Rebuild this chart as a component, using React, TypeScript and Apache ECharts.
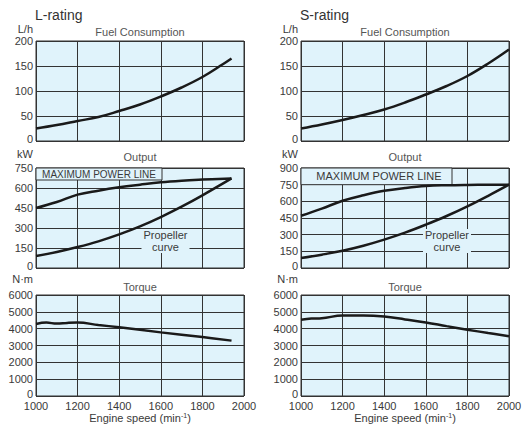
import React, { useEffect, useRef } from "react";
import * as echarts from "echarts";

// ---------- data ----------
const speedTicks = [1000, 1200, 1400, 1600, 1800, 2000];

// L-rating
const lFuelSpeed = [1000, 1100, 1200, 1300, 1400, 1500, 1600, 1700, 1800, 1900, 1940];
const lFuel = [25, 32, 40, 48, 60, 73, 89, 107, 128, 154, 165];
const lPowerSpeed = [1000, 1100, 1200, 1300, 1400, 1500, 1600, 1700, 1800, 1940];
const lMaxPower = [450, 495, 550, 580, 605, 625, 643, 655, 663, 672];
const lPropeller = [90, 120, 157, 200, 252, 312, 382, 460, 545, 672];
const lTorqueSpeed = [1000, 1050, 1100, 1150, 1200, 1300, 1400, 1600, 1800, 1940];
const lTorque = [4280, 4360, 4300, 4340, 4360, 4220, 4080, 3780, 3500, 3290];

// S-rating
const sFuelSpeed = [1000, 1100, 1200, 1300, 1400, 1500, 1600, 1700, 1800, 1900, 2000];
const sFuel = [25, 33, 42, 52, 63, 77, 93, 110, 130, 155, 183];
const sPowerSpeed = [1000, 1100, 1200, 1300, 1400, 1500, 1600, 1700, 1800, 1900, 2000];
const sMaxPower = [470, 535, 605, 655, 695, 720, 738, 745, 748, 749, 750];
const sPropeller = [90, 120, 155, 200, 255, 318, 390, 468, 555, 650, 750];
const sTorqueSpeed = [1000, 1050, 1100, 1200, 1300, 1400, 1500, 1600, 1700, 1800, 1900, 2000];
const sTorque = [4530, 4600, 4620, 4780, 4780, 4720, 4550, 4370, 4150, 3940, 3740, 3550];

const panelTitles = ["Fuel Consumption", "Output", "Torque"];
const unitLabels = ["L/h", "kW", "N·m"];
const ratingTitles = ["L-rating", "S-rating"];
const yMax = [
  [200, 750, 6000],
  [200, 900, 6000],
];
const yInterval = [50, 150, 1000];

const FONT = "'Liberation Sans', Arial, sans-serif";
const BG = "#e0f3fb";
const GRIDC = "#333";
const LINEC = "#1a1a1a";
const TEXTC = "#3a3a3a";

const colLeft = [36, 301];
const rowTop = [41, 168, 295];
const rowH = [100, 100, 101];
const plotW = 208;

function pairs(xs: number[], ys: number[]) {
  return xs.map((x, i) => [x, ys[i]]);
}

export default function App() {
  const ref = useRef<HTMLDivElement>(null);
  useEffect(() => {
    if (!ref.current) return;
    const chart = echarts.init(ref.current, undefined, { renderer: "svg" });

    const grids: any[] = [];
    const xAxes: any[] = [];
    const yAxes: any[] = [];
    for (let c = 0; c < 2; c++) {
      for (let r = 0; r < 3; r++) {
        const gi = c * 3 + r;
        grids.push({
          left: colLeft[c],
          top: rowTop[r],
          width: plotW,
          height: rowH[r],
          show: true,
          backgroundColor: BG,
          borderColor: GRIDC,
          borderWidth: 1,
        });
        xAxes.push({
          type: "value",
          gridIndex: gi,
          min: speedTicks[0],
          max: speedTicks[speedTicks.length - 1],
          interval: 200,
          axisLine: { show: false },
          axisTick: { show: false },
          axisLabel: {
            show: r === 2,
            fontSize: 11,
            fontFamily: FONT,
            color: TEXTC,
            margin: 4,
            formatter: (v: number) => String(v),
          },
          splitLine: { show: true, lineStyle: { color: GRIDC, width: 1 } },
        });
        yAxes.push({
          type: "value",
          gridIndex: gi,
          min: 0,
          max: yMax[c][r],
          interval: yInterval[r],
          axisLine: { show: false },
          axisTick: { show: false },
          axisLabel: {
            fontSize: 11,
            fontFamily: FONT,
            color: TEXTC,
            margin: 3,
            formatter: (v: number) => (v === 0 ? "{z|0}" : String(v)),
            rich: {
              z: { fontSize: 11, fontFamily: FONT, color: TEXTC, padding: [0, 0, 4, 0] },
            },
          },
          splitLine: { show: true, lineStyle: { color: GRIDC, width: 1 } },
        });
      }
    }

    const line = (gi: number, data: number[][]) => ({
      type: "line",
      xAxisIndex: gi,
      yAxisIndex: gi,
      data,
      smooth: 0.4,
      showSymbol: false,
      symbol: "none",
      lineStyle: { color: LINEC, width: 2.5 },
      z: 5,
    });

    const series = [
      line(0, pairs(lFuelSpeed, lFuel)),
      line(1, pairs(lPowerSpeed, lMaxPower)),
      line(1, pairs(lPowerSpeed, lPropeller)),
      line(2, pairs(lTorqueSpeed, lTorque)),
      line(3, pairs(sFuelSpeed, sFuel)),
      line(4, pairs(sPowerSpeed, sMaxPower)),
      line(4, pairs(sPowerSpeed, sPropeller)),
      line(5, pairs(sTorqueSpeed, sTorque)),
    ];

    const txt = (
      text: string,
      x: number,
      y: number,
      size: number,
      fill: string,
      align: string = "center",
      extra: any = {}
    ) => ({
      type: "text",
      x,
      y,
      z: 10,
      style: {
        text,
        fontSize: size,
        fontFamily: FONT,
        fill,
        align,
        verticalAlign: "middle",
        ...extra,
      },
    });

    const graphic: any[] = [];
    const colCenter = [140, 405];
    const unitRight = [33, 298];
    const unitY = [28.5, 153.5, 279];
    const titleY = [32, 157, 287];
    for (let c = 0; c < 2; c++) {
      graphic.push(txt(ratingTitles[c], colLeft[c] - 1, 15, 14, "#333", "left"));
      for (let r = 0; r < 3; r++) {
        graphic.push(txt(unitLabels[r], unitRight[c], unitY[r], 11, TEXTC, "right"));
        graphic.push(txt(panelTitles[r], colCenter[c], titleY[r], 11, "#555"));
      }
      graphic.push({
        type: "text",
        x: colCenter[c],
        y: 418,
        z: 10,
        style: {
          text: "Engine speed (min{sup|-1})",
          fontSize: 11,
          fontFamily: FONT,
          fill: TEXTC,
          align: "center",
          verticalAlign: "middle",
          rich: {
            sup: { fontSize: 7, fontFamily: FONT, fill: TEXTC, verticalAlign: "top", padding: [0, 0, 5, 0] },
          },
        },
      });
    }

    // MAXIMUM POWER LINE boxes
    graphic.push({
      type: "rect",
      z: 3,
      shape: { x: 36, y: 168, width: 126, height: 12 },
      style: { fill: BG, stroke: GRIDC, lineWidth: 1 },
    });
    graphic.push(txt("MAXIMUM POWER LINE", 99, 174.5, 10, TEXTC));
    graphic.push({
      type: "rect",
      z: 3,
      shape: { x: 301, y: 168, width: 151, height: 16.7 },
      style: { fill: BG, stroke: GRIDC, lineWidth: 1 },
    });
    graphic.push(txt("MAXIMUM POWER LINE", 379, 175.5, 11, TEXTC));

    // Propeller curve labels
    graphic.push(
      txt("Propeller\ncurve", 165.5, 241, 11, TEXTC, "center", {
        backgroundColor: BG,
        lineHeight: 12,
        padding: [0, 2],
      })
    );
    graphic.push(
      txt("Propeller\ncurve", 447, 241, 11, TEXTC, "center", {
        backgroundColor: BG,
        lineHeight: 12,
        padding: [0, 2],
      })
    );

    chart.setOption({
      animation: false,
      grid: grids,
      xAxis: xAxes,
      yAxis: yAxes,
      series,
      graphic,
    });

    return () => chart.dispose();
  }, []);

  return (
    <div
      ref={ref}
      style={{ position: "fixed", left: 0, top: 0, width: 529, height: 425, background: "#fff" }}
    />
  );
}
